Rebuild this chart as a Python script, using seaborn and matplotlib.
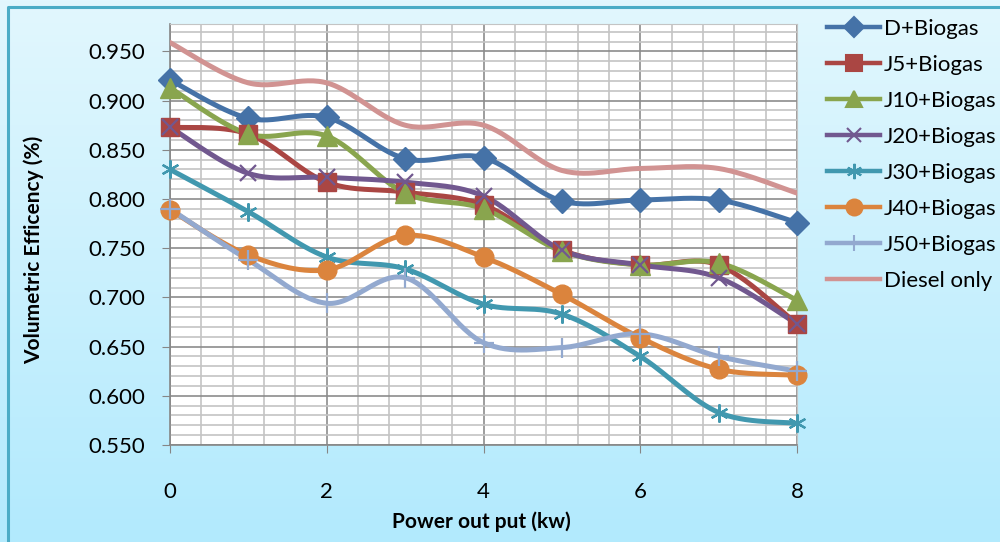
import numpy as np
import pandas as pd
import matplotlib
matplotlib.use('Agg')
import matplotlib.pyplot as plt
import seaborn as sns
from matplotlib.lines import Line2D
from matplotlib.colors import LinearSegmentedColormap
from matplotlib.ticker import MultipleLocator, FormatStrFormatter

power = [0, 1, 2, 3, 4, 5, 6, 7, 8]
d_biogas = [0.921, 0.882, 0.883, 0.841, 0.842, 0.798, 0.799, 0.799, 0.776]
j5_biogas = [0.873, 0.866, 0.817, 0.807, 0.794, 0.748, 0.733, 0.733, 0.673]
j10_biogas = [0.913, 0.866, 0.864, 0.806, 0.790, 0.747, 0.733, 0.735, 0.697]
j20_biogas = [0.873, 0.826, 0.822, 0.817, 0.803, 0.748, 0.733, 0.720, 0.673]
j30_biogas = [0.830, 0.787, 0.741, 0.729, 0.693, 0.683, 0.640, 0.583, 0.572]
j40_biogas = [0.789, 0.743, 0.728, 0.763, 0.741, 0.703, 0.659, 0.627, 0.621]
j50_biogas = [0.790, 0.738, 0.694, 0.720, 0.654, 0.649, 0.663, 0.640, 0.625]
diesel_only = [0.959, 0.918, 0.918, 0.875, 0.875, 0.829, 0.831, 0.831, 0.806]

series = ['D+Biogas', 'J5+Biogas', 'J10+Biogas', 'J20+Biogas', 'J30+Biogas',
          'J40+Biogas', 'J50+Biogas', 'Diesel only']
values = [d_biogas, j5_biogas, j10_biogas, j20_biogas, j30_biogas,
          j40_biogas, j50_biogas, diesel_only]
colors = ['#4572A7', '#AA4643', '#89A54E', '#71588F', '#4198AF',
          '#DB843D', '#93A9CF', '#D19392']
markers = ['D', 's', '^', 'x', (6, 2, 0), 'o', '+', None]
msizes = [12, 13, 14, 12, 13, 13.5, 14, 0]

plt.rcParams['font.family'] = ['Lato', 'DejaVu Sans']


def smooth(x, y, n=30):
    # Excel-like smoothed line (bezier through the points)
    x = np.asarray(x, float)
    y = np.asarray(y, float)
    px = np.concatenate([[x[0]], x, [x[-1]]])
    py = np.concatenate([[y[0]], y, [y[-1]]])
    xs, ys = [], []
    t = np.linspace(0, 1, n)
    for i in range(1, len(px) - 2):
        p0 = np.array([px[i], py[i]])
        p3 = np.array([px[i + 1], py[i + 1]])
        p1 = p0 + (np.array([px[i + 1], py[i + 1]]) - np.array([px[i - 1], py[i - 1]])) / 6
        p2 = p3 - (np.array([px[i + 2], py[i + 2]]) - np.array([px[i], py[i]])) / 6
        b = ((1 - t) ** 3)[:, None] * p0 + (3 * (1 - t) ** 2 * t)[:, None] * p1 \
            + (3 * (1 - t) * t ** 2)[:, None] * p2 + (t ** 3)[:, None] * p3
        xs.extend(b[:, 0])
        ys.extend(b[:, 1])
    return np.array(xs), np.array(ys)


fig = plt.figure(figsize=(10, 5.42), dpi=100)

# gradient background + chart border (left/top visible only)
bg = fig.add_axes([0, 0, 1, 1], zorder=-10)
grad = np.linspace(0, 1, 256)[:, None]
cmap = LinearSegmentedColormap.from_list('bg', ['#e2f7fe', '#b2eafd'])
bg.imshow(grad, aspect='auto', cmap=cmap, extent=[0, 1, 0, 1])
bg.plot([0.0075, 0.0075, 1.0], [0.0, 0.987, 0.987], color='#4bacc6', lw=2.2,
        transform=bg.transAxes)
bg.set_xlim(0, 1)
bg.set_ylim(0, 1)
bg.set_axis_off()

ax = fig.add_axes([0.170, 0.179, 0.627, 0.777])
ax.set_facecolor('white')

for name, vals, c, m, ms in zip(series, values, colors, markers, msizes):
    xs, ys = smooth(power, vals)
    sns.lineplot(x=xs, y=ys, ax=ax, color=c, lw=3.6, sort=False, zorder=3)
    if m is not None:
        ax.plot(power, vals, linestyle='none', marker=m, markersize=ms,
                color=c, markeredgecolor=c,
                markeredgewidth=1.6 if m in ('x', '+', (6, 2, 0)) else 1,
                zorder=4, clip_on=False)

ax.set_xlim(0, 8)
ax.set_ylim(0.55, 0.978)
ax.xaxis.set_major_locator(MultipleLocator(2))
ax.xaxis.set_minor_locator(MultipleLocator(0.4))
ax.yaxis.set_major_locator(MultipleLocator(0.05))
ax.yaxis.set_minor_locator(MultipleLocator(0.01))
ax.yaxis.set_major_formatter(FormatStrFormatter('%.3f'))
ax.grid(which='major', color='#8c8c8c', lw=1.2, zorder=0)
ax.grid(which='minor', color='#c4c4c4', lw=1.2, zorder=0)
ax.set_axisbelow(True)
for s in ['top', 'right']:
    ax.spines[s].set_color('#c4c4c4')
for s in ['left', 'bottom']:
    ax.spines[s].set_color('#868686')
    ax.spines[s].set_linewidth(1.2)
ax.tick_params(which='major', direction='out', length=6, color='#868686',
               labelsize=16)
ax.tick_params(axis='y', pad=12)
ax.tick_params(axis='x', pad=21)
ax.tick_params(which='minor', length=0)
ax.set_yticks(np.arange(0.55, 0.951, 0.05))
ax.set_xlabel('')
ax.set_ylabel('')
fig.text(0.481, 0.037, 'Power out put (kw)', fontsize=15, fontweight='bold',
         ha='center', va='center')
fig.text(0.034, 0.539, 'Volumetric Efficency (%)', fontsize=15, fontweight='bold',
         ha='center', va='center', rotation=90)

handles = [Line2D([0], [0], color=c, lw=3.2, marker=m if m is not None else None,
                  markersize=ms * 0.85, markeredgewidth=1.5)
           for c, m, ms in zip(colors, markers, msizes)]
fig.legend(handles, series, loc='upper left', bbox_to_anchor=(0.818, 0.982),
           frameon=False, fontsize=16, handlelength=2.4, handletextpad=0.15,
           labelspacing=0.72, borderaxespad=0)

fig.savefig('out.png', dpi=100)
